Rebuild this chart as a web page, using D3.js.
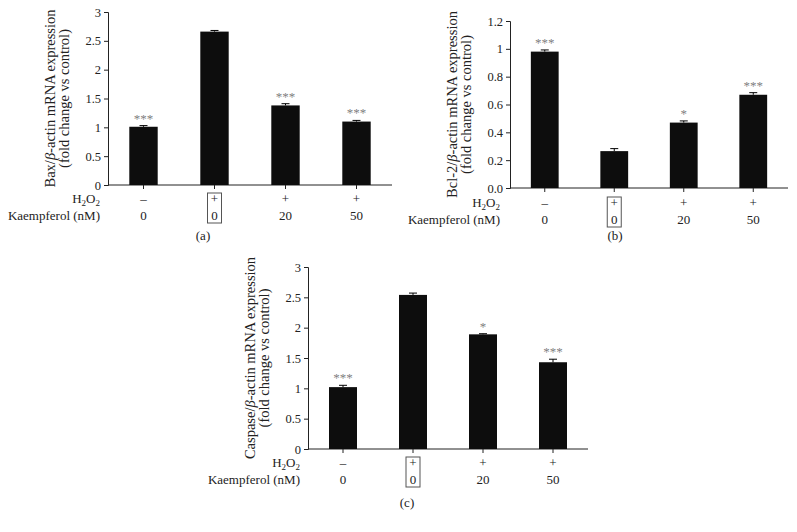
<!DOCTYPE html>
<html>
<head>
<meta charset="utf-8">
<script src="https://cdn.jsdelivr.net/npm/d3@7"></script>
<style>
  body { margin: 0; background: #fff; }
  text { font-family: "Liberation Serif", "DejaVu Serif", serif; fill: #222; }
  .domain, .tick line { stroke: #222; }
</style>
</head>
<body>
<script>
// data
const groups = ['g1', 'g2', 'g3', 'g4'];
const h2o2Labels = ['\u2013', '+', '+', '+'];
const kaempferolLabels = ['0', '0', '20', '50'];

const baxValues = [1.01, 2.66, 1.38, 1.10];
const baxErrors = [0.02, 0.02, 0.03, 0.02];
const baxStars = ['***', '', '***', '***'];
const baxTicks = [0, 0.5, 1, 1.5, 2, 2.5, 3];

const bclValues = [0.98, 0.265, 0.47, 0.67];
const bclErrors = [0.012, 0.018, 0.012, 0.015];
const bclStars = ['***', '', '*', '***'];
const bclTicks = [0, 0.2, 0.4, 0.6, 0.8, 1, 1.2];
const bclTickLabels = ['0.0', '0.2', '0.4', '0.6', '0.8', '1', '1.2'];

const casValues = [1.02, 2.54, 1.89, 1.43];
const casErrors = [0.03, 0.03, 0.01, 0.05];
const casStars = ['***', '', '*', '***'];
const casTicks = [0, 0.5, 1, 1.5, 2, 2.5, 3];

const svg = d3.select('body').append('svg')
    .attr('width', 797)
    .attr('height', 532);

function drawPanel(p) {
    const g = svg.append('g');

    const y = d3.scaleLinear().domain([0, p.yMax]).range([p.y0, p.y1]);
    const x = d3.scaleBand().domain(groups)
        .range([p.x0, p.x1]).paddingInner(0.6).paddingOuter(0.3);

    const yAxis = d3.axisLeft(y).tickValues(p.ticks).tickSize(4).tickPadding(3)
        .tickFormat((d, i) => p.tickLabels ? p.tickLabels[i] : d3.format('')(d));
    g.append('g').attr('transform', `translate(${p.x0},0)`).call(yAxis)
        .call(s => s.selectAll('text').style('font-size', '12.5px'));

    const xAxis = d3.axisBottom(x).tickSize(4).tickFormat('');
    g.append('g').attr('transform', `translate(0,${p.y0})`).call(xAxis)
        .call(s => s.select('.domain').attr('d', `M${p.x0},0H${p.x1}`));

    g.selectAll('rect.bar').data(p.values).join('rect')
        .attr('class', 'bar')
        .attr('x', (d, i) => x(groups[i]))
        .attr('width', x.bandwidth())
        .attr('y', d => y(d))
        .attr('height', d => p.y0 - y(d))
        .attr('fill', '#0d0d0d');

    const cap = 4;
    p.values.forEach((v, i) => {
        const cx = x(groups[i]) + x.bandwidth() / 2;
        const top = y(v + p.errors[i]);
        g.append('line').attr('x1', cx).attr('x2', cx)
            .attr('y1', y(v)).attr('y2', top).attr('stroke', '#000');
        g.append('line').attr('x1', cx - cap).attr('x2', cx + cap)
            .attr('y1', top).attr('y2', top).attr('stroke', '#000');
        if (p.stars[i]) {
            g.append('text').attr('x', cx).attr('y', top - 3)
                .attr('text-anchor', 'middle')
                .style('font-size', '13px').style('fill', '#808080')
                .text(p.stars[i]);
        }
        // condition rows
        g.append('text').attr('x', cx).attr('y', p.rowY1)
            .attr('text-anchor', 'middle').style('font-size', '13px')
            .text(h2o2Labels[i]);
        g.append('text').attr('x', cx).attr('y', p.rowY2)
            .attr('text-anchor', 'middle').style('font-size', '13px')
            .text(kaempferolLabels[i]);
        if (i === 1) {
            g.append('rect').attr('x', cx - 7).attr('y', p.rowY1 - 10)
                .attr('width', 14).attr('height', p.rowY2 - p.rowY1 + 13)
                .attr('fill', 'none').attr('stroke', '#555');
        }
    });

    // row titles
    const h = g.append('text').attr('x', p.x0 - p.rowGap).attr('y', p.rowY1)
        .attr('text-anchor', 'end').style('font-size', '13px');
    h.append('tspan').text('H');
    h.append('tspan').text('2').attr('dy', 3).style('font-size', '9px');
    h.append('tspan').text('O').attr('dy', -3);
    h.append('tspan').text('2').attr('dy', 3).style('font-size', '9px');
    g.append('text').attr('x', p.x0 - p.rowGap).attr('y', p.rowY2)
        .attr('text-anchor', 'end').style('font-size', '13px')
        .text('Kaempferol (nM)');

    // y axis title
    const cy = (p.y0 + p.y1) / 2;
    const t = g.append('text')
        .attr('transform', `translate(${p.x0 - 53},${cy}) rotate(-90)`)
        .attr('text-anchor', 'middle').style('font-size', '14.5px');
    t.append('tspan').text(p.name + '/');
    t.append('tspan').text('\u03B2').style('font-style', 'italic');
    t.append('tspan').text('-actin mRNA expression');
    g.append('text')
        .attr('transform', `translate(${p.x0 - 39},${cy}) rotate(-90)`)
        .attr('text-anchor', 'middle').style('font-size', '14.5px')
        .text('(fold change vs control)');

    g.append('text').attr('x', p.labelX).attr('y', p.labelY)
        .attr('text-anchor', 'middle').style('font-size', '13px')
        .text(p.label);
}

drawPanel({ name: 'Bax', values: baxValues, errors: baxErrors, stars: baxStars,
    ticks: baxTicks, yMax: 3, x0: 108, x1: 392, y0: 185, y1: 12,
    rowY1: 203, rowY2: 220, rowGap: 8, label: '(a)', labelX: 203, labelY: 240 });

drawPanel({ name: 'Bcl-2', values: bclValues, errors: bclErrors, stars: bclStars,
    ticks: bclTicks, tickLabels: bclTickLabels, yMax: 1.2, x0: 510, x1: 788, y0: 188, y1: 21,
    rowY1: 207, rowY2: 224, rowGap: 10, label: '(b)', labelX: 615, labelY: 240 });

drawPanel({ name: 'Caspase', values: casValues, errors: casErrors, stars: casStars,
    ticks: casTicks, yMax: 3, x0: 308, x1: 588, y0: 449, y1: 267,
    rowY1: 467, rowY2: 484, rowGap: 8, label: '(c)', labelX: 407, labelY: 507 });
</script>
</body>
</html>
